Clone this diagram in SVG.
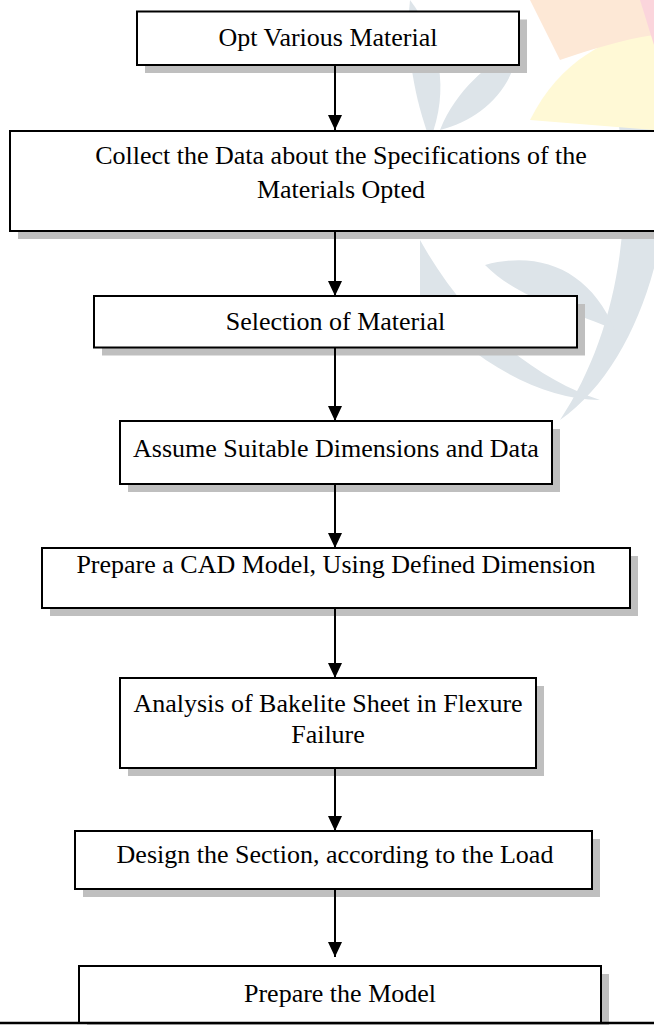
<svg xmlns="http://www.w3.org/2000/svg" width="654" height="1025" viewBox="0 0 654 1025">
<defs>
<style>
.box{fill:#ffffff;stroke:#000;stroke-width:2}
.sh{fill:#bfbfbf}
.t{font-family:'Liberation Serif','Times New Roman',Tinos,'Nimbus Roman','DejaVu Serif',serif;font-size:26px;fill:#000;text-anchor:middle}
.wm{fill:#dde4e9}
.conn line{stroke:#000;stroke-width:2}
</style>
<marker id="ah" markerWidth="15" markerHeight="14" refX="15" refY="7" orient="auto" markerUnits="userSpaceOnUse" viewBox="0 0 15 14">
<path d="M0 0 L15 7 L0 14 Z" fill="#000"/>
</marker>
</defs>
<rect x="0" y="0" width="654" height="1025" fill="#fff"/>
<g id="watermark">
<path class="wm" d="M410 0 C440 40 450 90 430 140 C415 100 405 50 410 0 Z"/>
<path class="wm" d="M440 130 C460 80 500 60 520 40 C515 90 480 120 440 130 Z"/>
<path class="wm" d="M640 20 C700 150 660 350 560 420 C620 330 640 200 610 80 Z"/>
<path class="wm" d="M485 265 C540 250 590 270 615 330 C570 310 520 300 485 265 Z"/>
<path class="wm" d="M420 240 C470 330 540 380 600 400 C540 400 470 360 420 300 Z"/>
<path fill="#fff9d6" d="M530 120 C560 60 610 35 654 30 L654 130 Z"/>
<path fill="#fde8d6" d="M530 0 L654 0 L654 35 C620 40 590 50 560 60 Z"/>
<path fill="#fbd5dc" d="M640 0 L654 0 L654 45 Z"/>
</g>
<g id="n1">
<rect class="sh" x="145" y="19.5" width="382" height="53.5"/>
<rect class="box" x="137" y="11.5" width="382" height="53.5"/>
<text class="t" x="328" y="46" font-family="Liberation Serif, serif">Opt Various Material</text>
</g>
<g id="n2">
<rect class="sh" x="18" y="139" width="663" height="100"/>
<rect class="box" x="10" y="131" width="663" height="100"/>
<text class="t" x="341" y="164">Collect the Data about the Specifications of the</text>
<text class="t" x="341" y="198">Materials Opted</text>
</g>
<g id="n3">
<rect class="sh" x="102" y="304" width="483" height="51.5"/>
<rect class="box" x="94" y="296" width="483" height="51.5"/>
<text class="t" x="335.5" y="330">Selection of Material</text>
</g>
<g id="n4">
<rect class="sh" x="128" y="429" width="432" height="63"/>
<rect class="box" x="120" y="421" width="432" height="63"/>
<text class="t" x="336" y="457">Assume Suitable Dimensions and Data</text>
</g>
<g id="n5">
<rect class="sh" x="50" y="556" width="588" height="60"/>
<rect class="box" x="42" y="548" width="588" height="60"/>
<text class="t" x="336" y="573">Prepare a CAD Model, Using Defined Dimension</text>
</g>
<g id="n6">
<rect class="sh" x="128" y="686" width="416" height="90"/>
<rect class="box" x="120" y="678" width="416" height="90"/>
<text class="t" x="328" y="712">Analysis of Bakelite Sheet in Flexure</text>
<text class="t" x="328" y="743">Failure</text>
</g>
<g id="n7">
<rect class="sh" x="83" y="839" width="517" height="58"/>
<rect class="box" x="75" y="831" width="517" height="58"/>
<text class="t" x="335" y="863">Design the Section, according to the Load</text>
</g>
<g id="n8">
<rect class="sh" x="87" y="974" width="522" height="57"/>
<rect class="box" x="79" y="966" width="522" height="57"/>
<text class="t" x="340" y="1002">Prepare the Model</text>
<line x1="0" y1="1023" x2="654" y2="1023" stroke="#000" stroke-width="2.5"/>
</g>
<g id="connectors" class="conn">
<line x1="335" y1="65" x2="335" y2="130" marker-end="url(#ah)"/>
<line x1="335" y1="231" x2="335" y2="296" marker-end="url(#ah)"/>
<line x1="335" y1="347.5" x2="335" y2="421" marker-end="url(#ah)"/>
<line x1="335" y1="484" x2="335" y2="548" marker-end="url(#ah)"/>
<line x1="335" y1="608" x2="335" y2="678" marker-end="url(#ah)"/>
<line x1="335" y1="768" x2="335" y2="831" marker-end="url(#ah)"/>
<line x1="335" y1="889" x2="335" y2="957" marker-end="url(#ah)"/>
</g>
</svg>
